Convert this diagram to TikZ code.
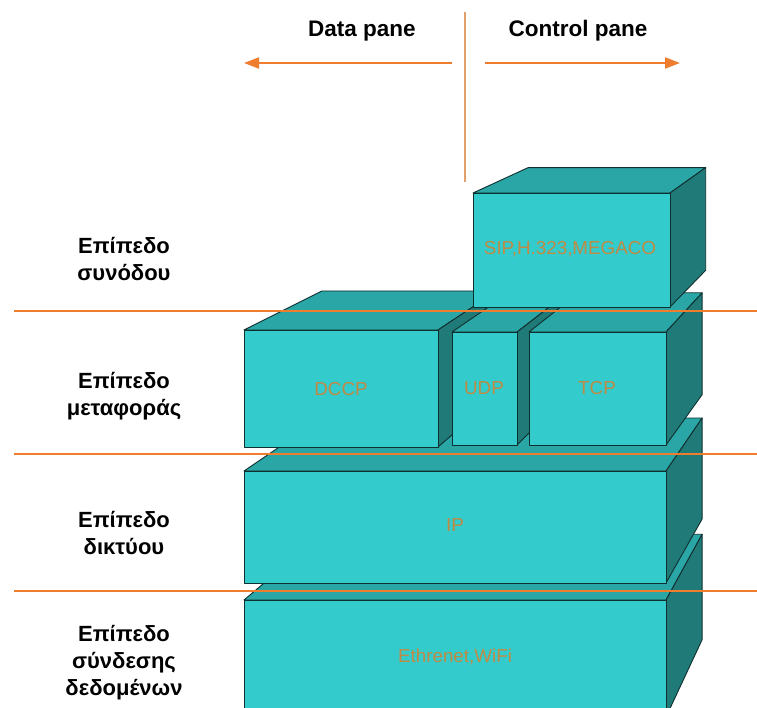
\documentclass[tikz,border=0pt]{standalone}
\usepackage{fontspec}
\setmainfont{Liberation Sans}
\usetikzlibrary{calc,arrows.meta}

\definecolor{frontc}{HTML}{33CBCB}
\definecolor{topc}{HTML}{29A6A5}
\definecolor{sidec}{HTML}{1F7A78}
\definecolor{edgec}{HTML}{10302F}
\definecolor{lblc}{HTML}{C08A45}
\definecolor{sepc}{HTML}{EE7D2E}
\definecolor{axisc}{HTML}{E2A06A}

% depth factor of the perspective boxes, towards the vanishing point V
\newcommand\dep{0.099}

% a perspective box: name, front left x, front top y, front right x, front bottom y
\newcommand\pbox[5]{%
  \coordinate (#1a) at (#2,#3);
  \coordinate (#1b) at (#4,#3);
  \coordinate (#1c) at (#4,#5);
  \coordinate (#1d) at (#2,#5);
  \coordinate (#1A) at ($(#1a)!\dep!(V)$);
  \coordinate (#1B) at ($(#1b)!\dep!(V)$);
  \coordinate (#1C) at ($(#1c)!\dep!(V)$);
  \draw[topf] (#1a) -- (#1A) -- (#1B) -- (#1b) -- cycle;
  \draw[sidef] (#1b) -- (#1B) -- (#1C) -- (#1c) -- cycle;
  \draw[frontf] (#1a) rectangle (#1c);
}

\tikzset{
  faces/.style={draw=edgec, line width=0.9pt, line join=round},
  topf/.style={faces, fill=topc},
  sidef/.style={faces, fill=sidec},
  frontf/.style={faces, fill=frontc},
  lbl/.style={text=lblc, font=\fontsize{18.8}{19}\selectfont, inner sep=0pt},
  layer/.style={font=\bfseries\fontsize{22}{27}\selectfont, align=center, inner sep=0pt},
  pane/.style={font=\bfseries\fontsize{22.5}{22.5}\selectfont, inner sep=0pt},
  sep/.style={draw=sepc, line width=2pt},
  dir/.style={draw=sepc, line width=2pt, -{Triangle[length=15pt,width=11pt]}},
}

\begin{document}
\begin{tikzpicture}[x=1pt,y=-1pt]
\useasboundingbox (0,0) rectangle (757,708);
\clip (0,0) rectangle (757,708);
\fill[white] (0,0) rectangle (757,708);
\coordinate (V) at (1031,-64);

% split between data and control plane
\coordinate (ax1) at (465,12);
\coordinate (ax2) at (465,182);
\draw[draw=axisc, line width=2.2pt] (ax1) -- (ax2);
\node[pane] (data) at (362,31) {Data pane};
\node[pane] (ctrl) at (578,31) {Control pane};
\coordinate (dl1) at (452,63);
\coordinate (dl2) at (244,63);
\coordinate (cr1) at (485,63);
\coordinate (cr2) at (680,63);
\draw[dir] (dl1) -- (dl2);
\draw[dir] (cr1) -- (cr2);

% protocol stack, bottom layer first
\pbox{eth}{244}{600}{666}{717}
\pbox{ip}{244}{471}{666}{583}
\pbox{dccp}{244}{330}{438}{447}
\pbox{udp}{452}{332}{517}{445}
\pbox{tcp}{529}{332}{666}{445}
\pbox{sip}{473}{193}{670}{307}

\node[lbl] (ethL) at (455,657) {Ethrenet,WiFi};
\node[lbl] (ipL) at (455,525) {IP};
\node[lbl] (dccpL) at (341,389) {DCCP};
\node[lbl] (udpL) at (484,388) {UDP};
\node[lbl] (tcpL) at (597,388) {TCP};
\node[lbl] (sipL) at (570,249) {SIP,H.323,MEGACO};

% layer boundaries
\foreach \n/\y in {s1/311, s2/454, s3/591} {
  \coordinate (\n a) at (14,\y);
  \coordinate (\n b) at (757,\y);
  \draw[sep] (\n a) -- (\n b);
}

% layer names
\node[layer] (l1) at (124,259) {Επίπεδο\\συνόδου};
\node[layer] (l2) at (124,396) {Επίπεδο\\μεταφοράς};
\node[layer] (l3) at (124,533) {Επίπεδο\\δικτύου};
\node[layer] (l4) at (124,663) {Επίπεδο\\σύνδεσης\\δεδομένων};
\end{tikzpicture}
\end{document}
